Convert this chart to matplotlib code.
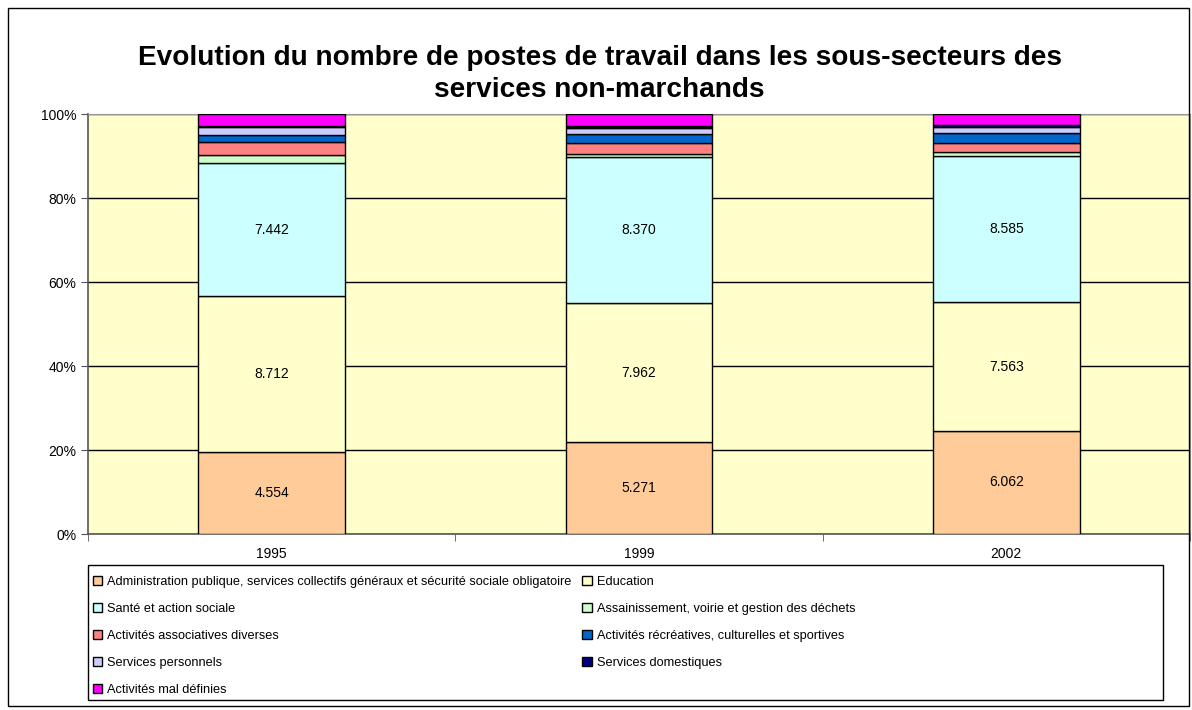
import matplotlib.pyplot as plt
import numpy as np
from matplotlib.patches import Rectangle, Patch

plt.rcParams['font.family'] = ['Liberation Sans', 'DejaVu Sans']

# Postes de travail (milliers) par sous-secteur
years = ['1995', '1999', '2002']
series = [
    'Administration publique, services collectifs généraux et sécurité sociale obligatoire',
    'Education',
    'Santé et action sociale',
    'Assainissement, voirie et gestion des déchets',
    'Activités associatives diverses',
    'Activités récréatives, culturelles et sportives',
    'Services personnels',
    'Services domestiques',
    'Activités mal définies',
]
admin = [4554, 5271, 6062]
education = [8712, 7962, 7563]
sante = [7442, 8370, 8585]
assainissement = [430, 200, 260]
associatives = [770, 600, 490]
recreatives = [360, 500, 640]
personnels = [430, 400, 345]
domestiques = [70, 75, 125]
mal_definies = [680, 700, 620]
label_text = [
    ['4.554', '5.271', '6.062'],
    ['8.712', '7.962', '7.563'],
    ['7.442', '8.370', '8.585'],
]

colors = ['#FFCC99', '#FFFFCC', '#CCFFFF', '#CCFFCC', '#FF8080',
          '#0066CC', '#CCCCFF', '#000080', '#FF00FF']

data = np.array([admin, education, sante, assainissement, associatives,
                 recreatives, personnels, domestiques, mal_definies], dtype=float)
pct = data / data.sum(axis=0) * 100

W, H = 1192, 710
fig = plt.figure(figsize=(W / 100, H / 100), dpi=100)
# outer chart border
fig.patches.append(Rectangle((8 / W, 4 / H), 1181 / W, 698 / H,
                             transform=fig.transFigure, fill=False,
                             edgecolor='black', linewidth=1))

ax = fig.add_axes([88 / W, 176 / H, 1102 / W, 420 / H])
ax.set_facecolor('#FFFFCC')

x = np.arange(len(years))
bottom = np.zeros(len(years))
for i, name in enumerate(series):
    ax.bar(x, pct[i], 0.4, bottom=bottom, color=colors[i],
           edgecolor='black', linewidth=1, zorder=3)
    if i < 3:
        for j in range(len(years)):
            ax.text(x[j], bottom[j] + pct[i][j] / 2, label_text[i][j],
                    ha='center', va='center', fontsize=10, zorder=4)
    bottom += pct[i]

ax.set_xlim(-0.5, 2.5)
ax.set_ylim(0, 100)
ax.set_yticks(np.arange(0, 101, 20))
ax.set_yticklabels([f'{v}%' for v in range(0, 101, 20)], fontsize=10)
ax.yaxis.grid(True, color='black', linewidth=1, zorder=0)
ax.set_xticks(x)
ax.set_xticklabels(years, fontsize=10)
ax.tick_params(axis='x', length=0, pad=9)
ax.set_xticks([-0.5, 0.5, 1.5, 2.5], minor=True)
ax.tick_params(axis='x', which='minor', length=5, color='#555555')
ax.tick_params(axis='y', length=5, color='#555555')
for s in ['left', 'bottom']:
    ax.spines[s].set_color('#555555')
    ax.spines[s].set_linewidth(1.2)
for s in ['top', 'right']:
    ax.spines[s].set_color('#999999')

fig.text(0.503, 1 - 74 / H,
         'Evolution du nombre de postes de travail dans les sous-secteurs des\nservices non-marchands',
         ha='center', va='center', fontsize=20.2, fontweight='bold', linespacing=1.28)

# legend box
fig.patches.append(Rectangle((88 / W, 10 / H), 1075 / W, 135 / H,
                             transform=fig.transFigure, fill=False,
                             edgecolor='black', linewidth=1))
handles = [Patch(facecolor=c, edgecolor='black', linewidth=1) for c in colors]
order = [0, 2, 4, 6, 8, 1, 3, 5, 7]
leg = fig.legend([handles[k] for k in order], [series[k] for k in order],
                 ncol=2, loc='upper left',
                 bbox_to_anchor=(90 / W, 1 - 573 / H),
                 fontsize=9.2, frameon=False,
                 handlelength=0.75, handleheight=0.75,
                 handletextpad=0.35, labelspacing=1.17, borderaxespad=0,
                 borderpad=0.2, columnspacing=0.9)

fig.savefig('out.png', dpi=100)
